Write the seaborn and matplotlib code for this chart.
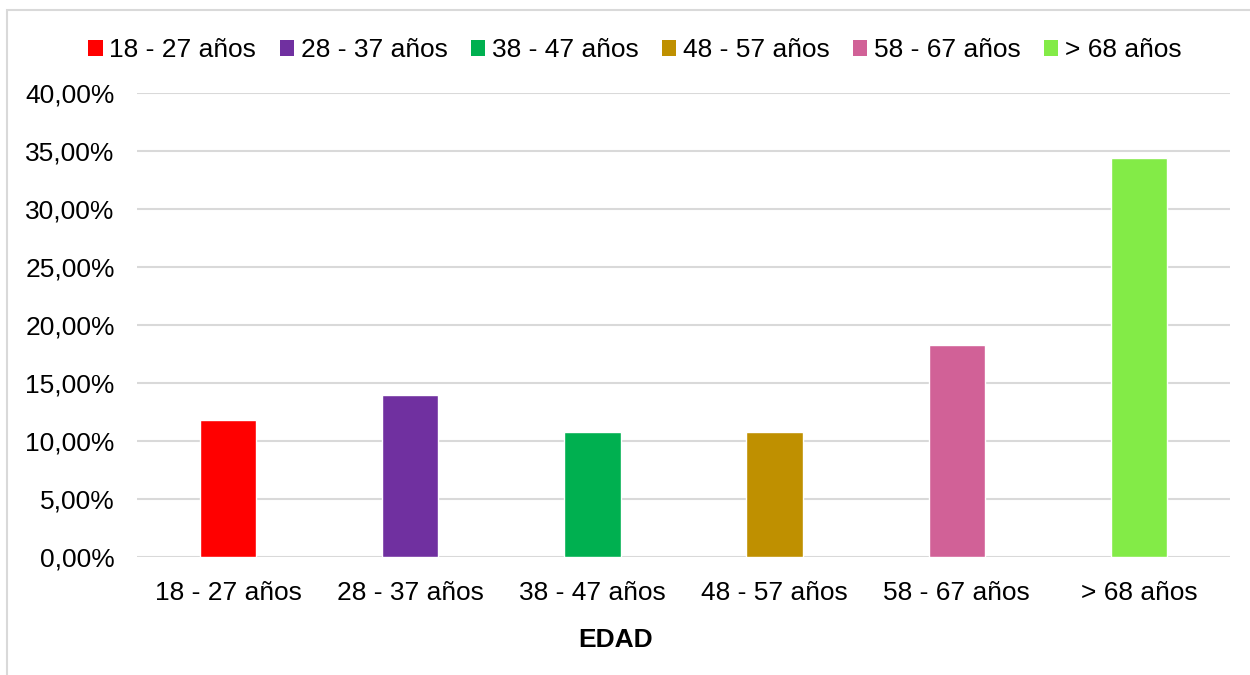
import matplotlib
matplotlib.use("Agg")
import matplotlib.pyplot as plt
from matplotlib.patches import Patch, Rectangle
from matplotlib.ticker import FuncFormatter, MultipleLocator
import seaborn as sns
import pandas as pd

# Age groups and their share of respondents (%)
categorias = ["18 - 27 años", "28 - 37 años", "38 - 47 años",
              "48 - 57 años", "58 - 67 años", "> 68 años"]
porcentajes = [11.83, 13.98, 10.75, 10.75, 18.28, 34.41]
colores = ["#FF0000", "#7030A0", "#00B050", "#BF9000", "#D16197", "#83EB47"]

df = pd.DataFrame({"edad": categorias, "pct": porcentajes})

sns.set_theme(style="white")
plt.rcParams["font.family"] = ["Liberation Sans", "DejaVu Sans"]
plt.rcParams["text.color"] = "black"

fig = plt.figure(figsize=(12.5, 6.75), dpi=100)
ax = fig.add_axes([0.1096, 0.1748, 0.8744, 0.6874])

sns.barplot(data=df, x="edad", y="pct", hue="edad", palette=colores,
            width=0.31, legend=False, ax=ax, saturation=1, zorder=3)

ax.set_ylim(0, 40)
ax.set_xlim(-0.5, len(categorias) - 0.5)
ax.yaxis.set_major_locator(MultipleLocator(5))
ax.yaxis.set_major_formatter(FuncFormatter(lambda v, _: f"{v:.2f}%".replace(".", ",")))
ax.grid(axis="y", color="#d9d9d9", linewidth=1.5, zorder=0)
ax.set_axisbelow(True)
for s in ax.spines.values():
    s.set_visible(False)

ax.tick_params(axis="y", labelsize=19, pad=16, length=0, colors="black")
ax.tick_params(axis="x", labelsize=19, pad=17, length=0, colors="black")
ax.set_ylabel("")
ax.set_xlabel("")
fig.text(616 / 1250, 1 - 640 / 675, "EDAD", fontsize=19, fontweight="bold",
         ha="center", va="center", color="black")

handles = [Patch(facecolor=c, edgecolor="none", label=l) for c, l in zip(colores, categorias)]
fig.legend(handles=handles, loc="center", bbox_to_anchor=(0.508, 0.926), ncol=6,
           frameon=False, fontsize=19, handlelength=0.55, handleheight=0.55,
           handletextpad=0.25, columnspacing=0.88, borderpad=0, labelcolor="black")

# chart frame
fig.add_artist(Rectangle((7 / 1250, -0.1), 1.2, 1 - 10 / 675 + 0.1,
                         transform=fig.transFigure, fill=False,
                         edgecolor="#d9d9d9", linewidth=1.5))

fig.savefig("out.png", dpi=100, facecolor="white")
